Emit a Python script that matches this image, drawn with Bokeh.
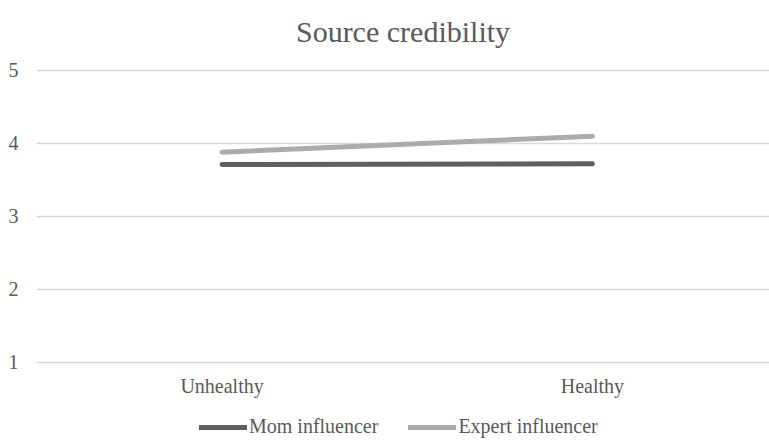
from bokeh.plotting import figure
from bokeh.layouts import column
from bokeh.models import Range1d, FixedTicker, Legend, LegendItem
from bokeh.embed import file_html
from bokeh.resources import INLINE

categories = ["Unhealthy", "Healthy"]
mom_influencer = [3.71, 3.72]
expert_influencer = [3.88, 4.10]
y_ticks = [1, 2, 3, 4, 5]
series_names = ["Mom influencer", "Expert influencer"]

FONT = "Liberation Serif"
TEXT = "#595959"
MOM_COLOR = "#5f5f5f"
EXP_COLOR = "#ababab"

x = list(range(len(categories)))

p = figure(width=769, height=408, output_backend="svg", toolbar_location=None,
           x_range=Range1d(-0.501, 1.478), y_range=Range1d(0.859, 5.137),
           min_border_left=36, min_border_right=0, min_border_top=60,
           min_border_bottom=36,
           title="Source credibility")

p.title.align = "center"
p.title.text_font = FONT
p.title.text_font_size = "30px"
p.title.text_font_style = "normal"
p.title.text_color = TEXT
p.title.text_line_height = 1.0
p.title.standoff = 25

p.outline_line_color = None
p.background_fill_color = "white"
p.border_fill_color = "white"

p.xgrid.grid_line_color = None
p.ygrid.grid_line_color = "#d9d9d9"
p.ygrid.grid_line_width = 1.5
p.yaxis.ticker = FixedTicker(ticks=y_ticks)
p.xaxis.ticker = FixedTicker(ticks=x)
p.xaxis.major_label_overrides = {i: c for i, c in enumerate(categories)}

for ax in (p.xaxis[0], p.yaxis[0]):
    ax.axis_line_color = None
    ax.major_tick_line_color = None
    ax.minor_tick_line_color = None
    ax.major_tick_out = 0
    ax.major_tick_in = 0
    ax.minor_tick_out = 0
    ax.minor_tick_in = 0
    ax.major_label_text_font = FONT
    ax.major_label_text_font_size = "20px"
    ax.major_label_text_color = TEXT
p.yaxis.major_label_standoff = 18
p.xaxis.major_label_standoff = 2

p.line(x, mom_influencer, line_color=MOM_COLOR, line_width=5, line_cap="round")
p.line(x, expert_influencer, line_color=EXP_COLOR, line_width=5, line_cap="round")

# Legend strip below the chart (its own small figure, lines kept out of view)
leg = figure(width=769, height=33, output_backend="svg", toolbar_location=None,
             x_range=Range1d(0, 1), y_range=Range1d(-10, -9),
             x_axis_location=None, y_axis_location=None,
             min_border_left=0, min_border_right=0, min_border_top=0, min_border_bottom=0)
leg.grid.visible = False
leg.outline_line_color = None
leg.border_fill_color = "white"
lm = leg.line(x, mom_influencer, line_color=MOM_COLOR, line_width=5, line_cap="round")
le = leg.line(x, expert_influencer, line_color=EXP_COLOR, line_width=5, line_cap="round")

legend = Legend(items=[LegendItem(label=series_names[0], renderers=[lm]),
                       LegendItem(label=series_names[1], renderers=[le])],
                orientation="horizontal", location=(163, 3),
                glyph_width=48, glyph_height=20, label_standoff=2, spacing=30,
                border_line_color=None, background_fill_alpha=0,
                label_text_font=FONT, label_text_font_size="20px",
                label_text_color=TEXT, padding=2, margin=0)
leg.add_layout(legend)

open("out.html", "w").write(file_html(column(p, leg, spacing=0), INLINE))
